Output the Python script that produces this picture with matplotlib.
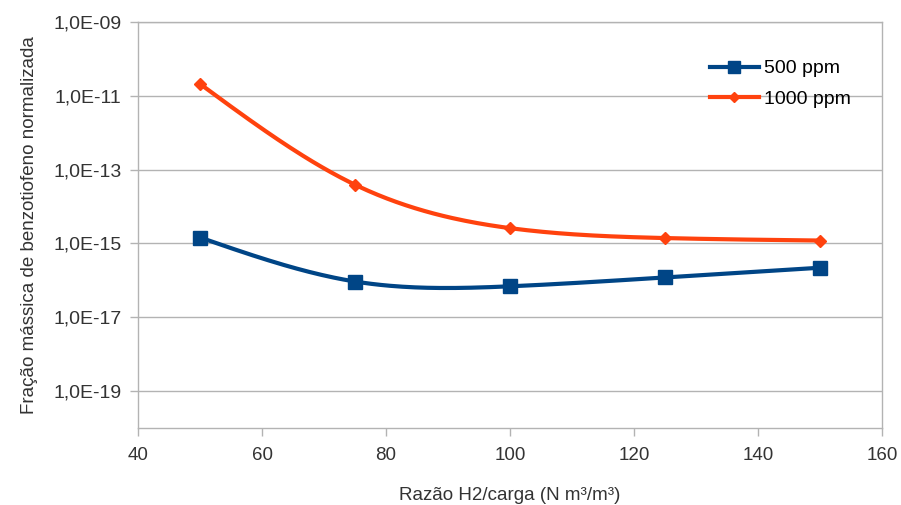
import numpy as np
import matplotlib
matplotlib.use('Agg')
import matplotlib.pyplot as plt
from matplotlib.ticker import FixedLocator, FuncFormatter

# data
razao = [50, 75, 100, 125, 150]
fracao_500 = [1.45e-15, 9.3e-17, 6.9e-17, 1.2e-16, 2.2e-16]
fracao_1000 = [2.1e-11, 3.9e-14, 2.6e-15, 1.4e-15, 1.2e-15]
series_names = ['500 ppm', '1000 ppm']


def natural_spline(x, y, n=200):
    # natural cubic spline, evaluated on a fine grid
    x = np.asarray(x, float)
    y = np.asarray(y, float)
    m = len(x)
    h = np.diff(x)
    A = np.zeros((m, m))
    b = np.zeros(m)
    A[0, 0] = 1
    A[-1, -1] = 1
    for i in range(1, m - 1):
        A[i, i - 1] = h[i - 1]
        A[i, i] = 2 * (h[i - 1] + h[i])
        A[i, i + 1] = h[i]
        b[i] = 6 * ((y[i + 1] - y[i]) / h[i] - (y[i] - y[i - 1]) / h[i - 1])
    M = np.linalg.solve(A, b)
    xs = np.linspace(x[0], x[-1], n)
    ys = np.empty_like(xs)
    for k, xv in enumerate(xs):
        i = min(np.searchsorted(x, xv, side='right') - 1, m - 2)
        t0 = x[i + 1] - xv
        t1 = xv - x[i]
        ys[k] = (M[i] * t0**3 + M[i + 1] * t1**3) / (6 * h[i]) \
            + (y[i] / h[i] - M[i] * h[i] / 6) * t0 \
            + (y[i + 1] / h[i] - M[i + 1] * h[i] / 6) * t1
    return xs, ys


plt.rcParams['font.family'] = ['Liberation Sans', 'DejaVu Sans']

fig = plt.figure(figsize=(9.01, 5.05), dpi=100)
ax = fig.add_axes([0.1532, 0.1525, 0.8257, 0.8039])

colors = ['#004586', '#ff420e']
markers = ['s', 'D']
msizes = [10, 6.5]
for vals, name, c, mk, ms in zip([fracao_500, fracao_1000], series_names, colors, markers, msizes):
    xs, ly = natural_spline(razao, np.log10(vals))
    ax.plot(xs, 10**ly, color=c, lw=3, zorder=3)
    ax.plot(razao, vals, ls='none', marker=mk, ms=ms, color=c, zorder=4)
    ax.plot([], [], color=c, lw=3, marker=mk, ms=ms * 0.85, label=name)

ax.set_yscale('log')
ax.set_xlim(40, 160)
ax.set_ylim(1e-20, 1e-9)
ax.set_xticks(range(40, 161, 20))
ax.yaxis.set_major_locator(FixedLocator([10.0**e for e in range(-19, -8, 2)]))
ax.yaxis.set_minor_locator(FixedLocator([]))
ax.yaxis.set_major_formatter(FuncFormatter(lambda v, p: '1,0E-%02d' % round(-np.log10(v))))

ax.grid(axis='y', color='#b3b3b3', lw=1)
ax.set_axisbelow(True)
for s in ax.spines.values():
    s.set_color('#b3b3b3')
    s.set_linewidth(1)
ax.tick_params(colors='#b3b3b3', labelcolor='#333333', length=6, width=1)
ax.tick_params(axis='y', labelsize=14, pad=6)
ax.tick_params(axis='x', labelsize=13.5, pad=8)

ax.set_xlabel('Razão H2/carga (N m³/m³)', fontsize=13.5, color='#333333', labelpad=16)
ax.set_ylabel('Fração mássica de benzotiofeno normalizada', fontsize=13.5, color='#333333', labelpad=11)

ax.legend(loc='upper left', bbox_to_anchor=(0.769, 0.907), frameon=False, fontsize=14,
          borderpad=0, borderaxespad=0, handlelength=2.5, handletextpad=0.25, labelspacing=0.65)

fig.savefig('out.png', dpi=100)
